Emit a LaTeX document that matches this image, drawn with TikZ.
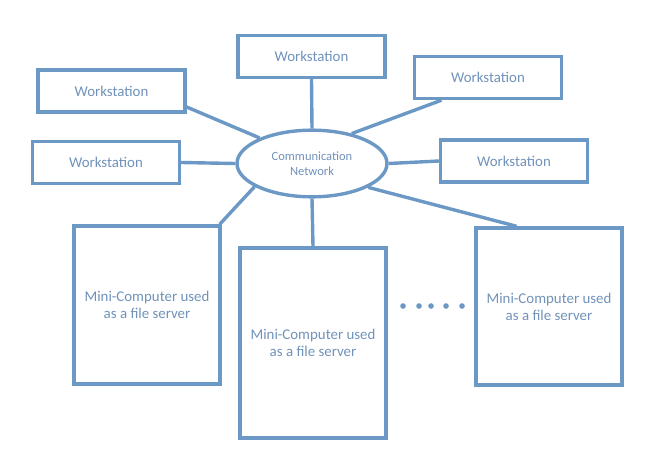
\documentclass[tikz,border=0pt]{standalone}
\usepackage{fontspec}
\setmainfont{Carlito}
\usepackage{tikz}
\usetikzlibrary{shapes.geometric}
\definecolor{netblue}{RGB}{108,152,198}
\definecolor{nettext}{RGB}{112,146,186}

\begin{document}
\begin{tikzpicture}[x=0.03cm,y=-0.03cm,
  wsbox/.style={draw=netblue,line width=2.9pt,text=nettext,minimum width=4.4cm,minimum height=1.26cm,inner sep=0pt,font=\fontsize{12.7}{14.5}\selectfont},
  mcbox/.style={draw=netblue,line width=2.9pt,text=nettext,minimum width=4.38cm,inner sep=0pt,align=center,font=\fontsize{12.7}{14.5}\selectfont},
  link/.style={draw=netblue,line width=2.9pt}]
\useasboundingbox (0,0) rectangle (652,456);
% network
\node[draw=netblue,line width=2.9pt,ellipse,text=nettext,minimum width=4.5cm,minimum height=2cm,inner sep=0pt,align=center,font=\fontsize{10.7}{12.5}\selectfont] (comm) at (312,163.5) {Communication\\Network};
% workstations
\node[wsbox] (wstop) at (311.5,56.5) {Workstation};
\node[wsbox] (wsleftA) at (111.5,91) {Workstation};
\node[wsbox] (wsleftB) at (106,162.5) {Workstation};
\node[wsbox] (wsrightA) at (488,77.5) {Workstation};
\node[wsbox] (wsrightB) at (514,161) {Workstation};
% mini-computers
\node[mcbox,minimum height=4.74cm] (mcleft) at (147,305) {Mini-Computer used\\as a file server};
\node[mcbox,minimum height=5.7cm] (mcmid) at (313,343) {Mini-Computer used\\as a file server};
\node[mcbox,minimum height=4.71cm] (mcright) at (549,306.5) {Mini-Computer used\\as a file server};
% links
\draw[link] (wstop.south) to (comm.north);
\draw[link] (wsleftA.-12) to (comm.154);
\draw[link] (wsleftB.east) to (comm.west);
\draw[link] (wsrightA.206) to (comm.37);
\draw[link] (comm.east) to (wsrightB.west);
\draw[link] (comm.202) to (mcleft.48);
\draw[link] (comm.south) to (mcmid.north);
\draw[link] (comm.-23) to (mcright.112);
% dots
\foreach \x in {403,419,431,446,462}
  \fill[netblue] (\x,306) circle (2.4pt);
\end{tikzpicture}
\end{document}
